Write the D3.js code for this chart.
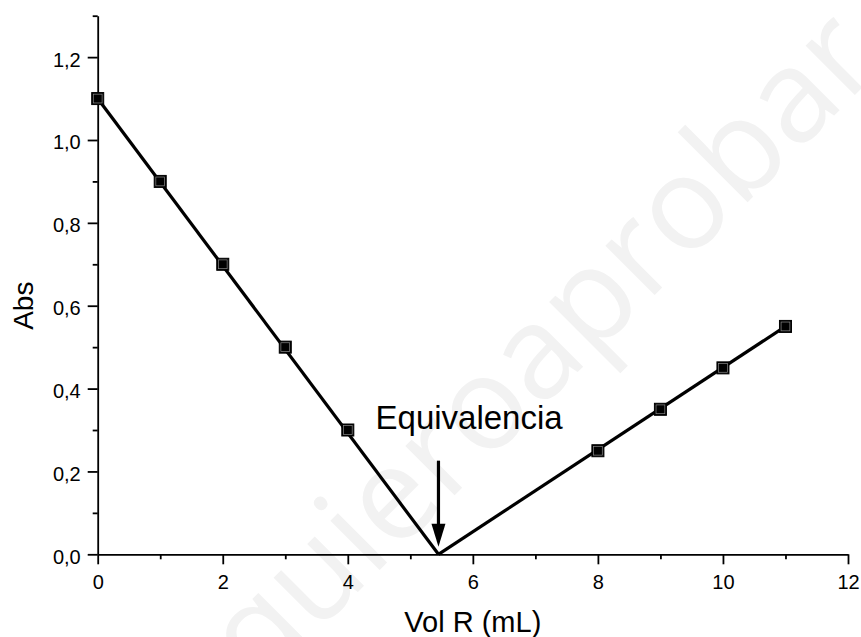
<!DOCTYPE html>
<html lang="es">
<head>
<meta charset="UTF-8">
<title>Abs vs Vol R</title>
<script src="https://d3js.org/d3.v7.min.js"></script>
<style>
  body { margin: 0; background: #fff; }
  svg { display: block; font-family: Arial, 'Liberation Sans', sans-serif; }
  .axis path, .axis line { stroke: #000; stroke-width: 1.8; }
  .axis text { fill: #000; font-size: 20px; font-family: Arial, 'Liberation Sans', sans-serif; }
</style>
</head>
<body>
<div id="chart"></div>
<script>
// measured points
const volumes = [0, 1, 2, 3, 4, 8, 9, 10, 11];
const absorbance = [1.1, 0.9, 0.7, 0.5, 0.3, 0.25, 0.35, 0.45, 0.55];

// fitted lines meeting at the equivalence point
const fitBeforeX = [0, 5.45];
const fitBeforeY = [1.1, 0.0];
const fitAfterX = [5.45, 11];
const fitAfterY = [0.0, 0.55];

// arrow marking the equivalence point
const arrowX = 5.45;
const arrowY = [0.226, 0.018];

const xTicks = [0, 2, 4, 6, 8, 10, 12];
const xMinor = [1, 3, 5, 7, 9, 11];
const yTicks = [0, 0.2, 0.4, 0.6, 0.8, 1.0, 1.2];
const yMinor = [0.1, 0.3, 0.5, 0.7, 0.9, 1.1, 1.3];

const width = 861, height = 637;
const svg = d3.select("#chart").append("svg")
  .attr("width", width)
  .attr("height", height);

const x = d3.scaleLinear().domain([0, 12]).range([97.7, 848]);
const y = d3.scaleLinear().domain([0, 1.3]).range([554.3, 15.7]);

const es = d3.formatLocale({ decimal: ",", thousands: ".", grouping: [3], currency: ["", "€"] });

// watermark behind everything, placed so the "b" lands where it is in the picture
const wmSize = 130;
const wm = svg.append("text")
  .attr("font-family", "'Open Sans', 'Noto Sans', sans-serif")
  .attr("font-size", wmSize)
  .attr("fill", "#f2f2f2")
  .text("quieroaprobar");
const bOffset = wm.node().getSubStringLength(0, 10) + 0.09 * wmSize;
const s = Math.SQRT1_2;
const wmX = 748 - bOffset * s, wmY = 201.7 + bOffset * s;
wm.attr("transform", `translate(${wmX},${wmY}) rotate(-45)`);

// axes
svg.append("g").attr("class", "axis")
  .attr("transform", `translate(0,${y(0)})`)
  .call(d3.axisBottom(x).tickValues(xTicks).tickSize(10).tickSizeOuter(0).tickPadding(11).tickFormat(d3.format("d")));

svg.append("g").attr("class", "axis")
  .attr("transform", `translate(0,${y(0)})`)
  .call(d3.axisBottom(x).tickValues(xMinor).tickSize(5).tickFormat(""))
  .select(".domain").remove();

const yAxis = svg.append("g").attr("class", "axis")
  .attr("transform", `translate(${x(0)},0)`)
  .call(d3.axisLeft(y).tickValues(yTicks).tickSize(10).tickSizeOuter(0).tickPadding(7).tickFormat(es.format(".1f")));
yAxis.selectAll("text").attr("dy", "0.45em");

svg.append("g").attr("class", "axis")
  .attr("transform", `translate(${x(0)},0)`)
  .call(d3.axisLeft(y).tickValues(yMinor).tickSize(5).tickFormat(""))
  .select(".domain").remove();

// axis titles
svg.append("text")
  .attr("x", (x.range()[0] + x.range()[1]) / 2)
  .attr("y", 632)
  .attr("text-anchor", "middle")
  .attr("font-size", 29)
  .text("Vol R (mL)");

svg.append("text")
  .attr("transform", `translate(33,${y(0.6)}) rotate(-90)`)
  .attr("text-anchor", "middle")
  .attr("font-size", 28)
  .text("Abs");

// fit lines
const line = d3.line().x(d => x(d[0])).y(d => y(d[1]));
const seg1 = fitBeforeX.map((v, i) => [v, fitBeforeY[i]]);
const seg2 = fitAfterX.map((v, i) => [v, fitAfterY[i]]);
[seg1, seg2].forEach(seg => {
  svg.append("path")
    .datum(seg)
    .attr("d", line)
    .attr("fill", "none")
    .attr("stroke", "#000")
    .attr("stroke-width", 3.2);
});

// markers
const points = volumes.map((v, i) => ({ v, a: absorbance[i] }));
const m = svg.append("g").selectAll("g").data(points).join("g")
  .attr("transform", d => `translate(${x(d.v)},${y(d.a)})`);
m.append("rect")
  .attr("x", -6).attr("y", -6).attr("width", 12).attr("height", 12)
  .attr("fill", "#000").attr("stroke", "#000").attr("stroke-width", 1);
m.append("rect")
  .attr("x", -4.4).attr("y", -4.4).attr("width", 8.8).attr("height", 8.8)
  .attr("fill", "none").attr("stroke", "#8a8a8a").attr("stroke-width", 0.7);

// arrow
const ax = x(arrowX);
const yTop = y(arrowY[0]), yTip = y(arrowY[1]);
svg.append("line")
  .attr("x1", ax).attr("x2", ax)
  .attr("y1", yTop).attr("y2", yTip - 18)
  .attr("stroke", "#000").attr("stroke-width", 3.2);
svg.append("path")
  .attr("d", `M${ax - 7},${yTip - 23}L${ax + 7},${yTip - 23}L${ax},${yTip}Z`)
  .attr("fill", "#000");

// annotation
svg.append("text")
  .attr("x", x(5.94))
  .attr("y", y(0.303))
  .attr("text-anchor", "middle")
  .attr("font-size", 33)
  .text("Equivalencia");
</script>
</body>
</html>
